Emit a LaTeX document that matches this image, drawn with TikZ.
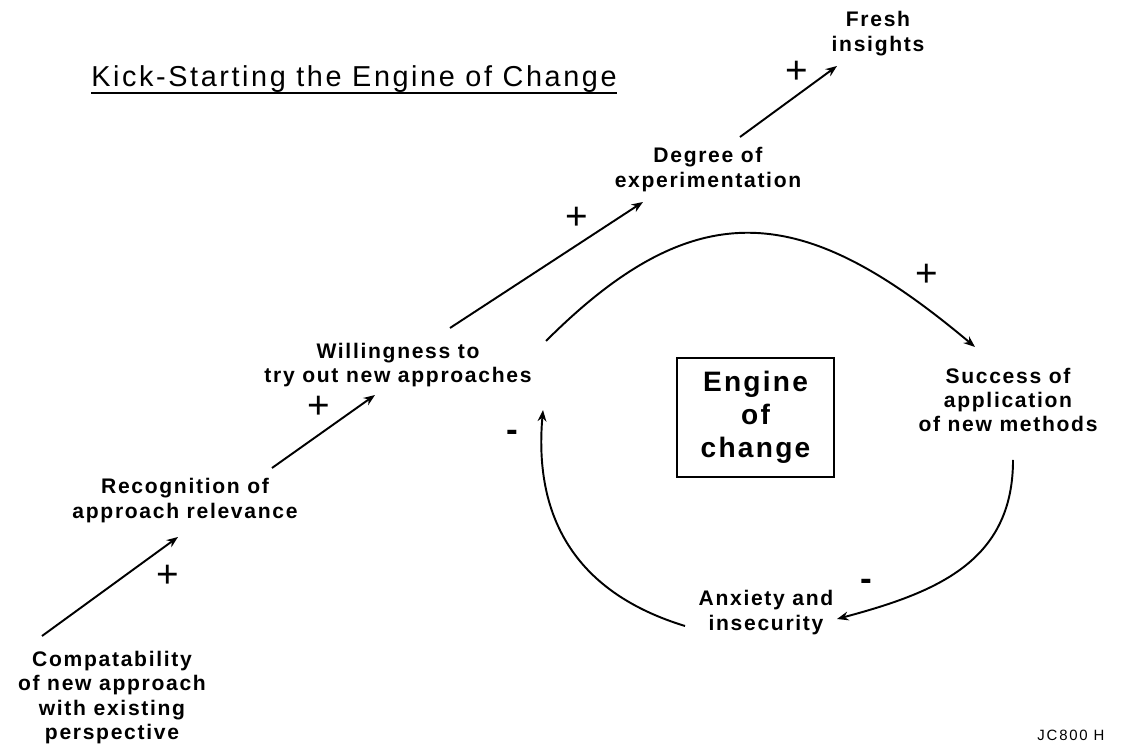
\documentclass[tikz,border=0pt]{standalone}
\usepackage{fontspec}
\setmainfont{Liberation Sans}
\newfontfamily\lblfont[LetterSpace=8]{Liberation Sans}
\newfontfamily\ttlfont[LetterSpace=9]{Liberation Sans}
\newfontfamily\tagfont[LetterSpace=12]{Liberation Sans}
\usepackage{tikz}
\usetikzlibrary{arrows.meta}

\begin{document}
\begin{tikzpicture}[x=0.02cm, y=0.02cm,
  lbl/.style={align=center, inner sep=0pt, font=\lblfont\bfseries\fontsize{12}{13.9}\selectfont},
  sgn/.style={inner sep=0pt, font=\fontsize{22}{22}\selectfont},
  neg/.style={inner sep=0pt, font=\bfseries\fontsize{20}{20}\selectfont},
  link/.style={line width=1.1pt, -{Stealth[length=6.5pt,width=5pt]}}]
  \fill[white] (0,0) rectangle (1124,749);
  \useasboundingbox (0,0) rectangle (1124,749);

  % title
  \node[anchor=base west, inner sep=0pt, font=\ttlfont\fontsize{16.4}{18}\selectfont] (title) at (91,662) {Kick-Starting the Engine of Change};
  \draw[line width=1.2pt] ([yshift=-3.5pt]title.base west) -- ([yshift=-3.5pt]title.base east);

  % factors
  \node[lbl] (fresh) at (878,715.5) {Fresh\\insights};
  \node[lbl] (degree) at (708,579.5) {Degree of\\experimentation};
  \node[lbl] (will) at (398,384) {Willingness to\\try out new approaches};
  \node[lbl] (recog) at (185,248.5) {Recognition of\\approach relevance};
  \node[lbl] (compat) at (112,51.5) {Compatability\\of new approach\\with existing\\perspective};
  \node[lbl] (success) at (1008,349) {Success of\\application\\of new methods};
  \node[lbl] (anxiety) at (766,136.5) {Anxiety and\\insecurity};

  \node[draw, line width=1.6pt, minimum width=3.14cm, minimum height=2.38cm, align=center,
        font=\lblfont\bfseries\fontsize{16}{18.8}\selectfont] (engine) at (755.5,331.5) {Engine\\of\\change};

  % chain of influences
  \draw[link] ([shift={(-70,61.5)}]compat.center) -- ([shift={(-7,-36.5)}]recog.center);
  \draw[link] ([shift={(87,32.5)}]recog.center) -- ([shift={(-23,-30)}]will.center);
  \draw[link] ([shift={(52,37)}]will.center) -- ([shift={(-65,-32.5)}]degree.center);
  \draw[link] ([shift={(32,32.5)}]degree.center) -- ([shift={(-41,-32.5)}]fresh.center);

  % the loop
  \draw[link] ([shift={(148,24)}]will.center) to[out=45, in=140, looseness=1.3] ([shift={(-33,53)}]success.center);
  \draw[link] ([shift={(5,-60)}]success.center) to[out=-90, in=15, looseness=1.1] ([shift={(71,-6.5)}]anxiety.center);
  \draw[link] ([shift={(-81,-13.5)}]anxiety.center) to[out=163, in=-95, looseness=1.1] ([shift={(145,-45)}]will.center);

  % signs
  \node[sgn] (p1) at (168,173) {+};
  \node[sgn] (p2) at (319,342) {+};
  \node[sgn] (p3) at (577,531) {+};
  \node[sgn] (p4) at (797,677) {+};
  \node[sgn] (p5) at (927,474) {+};
  \node[neg] (m1) at (512,313) {-};
  \node[neg] (m2) at (866,164) {-};

  \node[font=\tagfont\fontsize{8.5}{9}\selectfont, inner sep=0pt] (tag) at (1071,14) {JC800 H};
\end{tikzpicture}
\end{document}
